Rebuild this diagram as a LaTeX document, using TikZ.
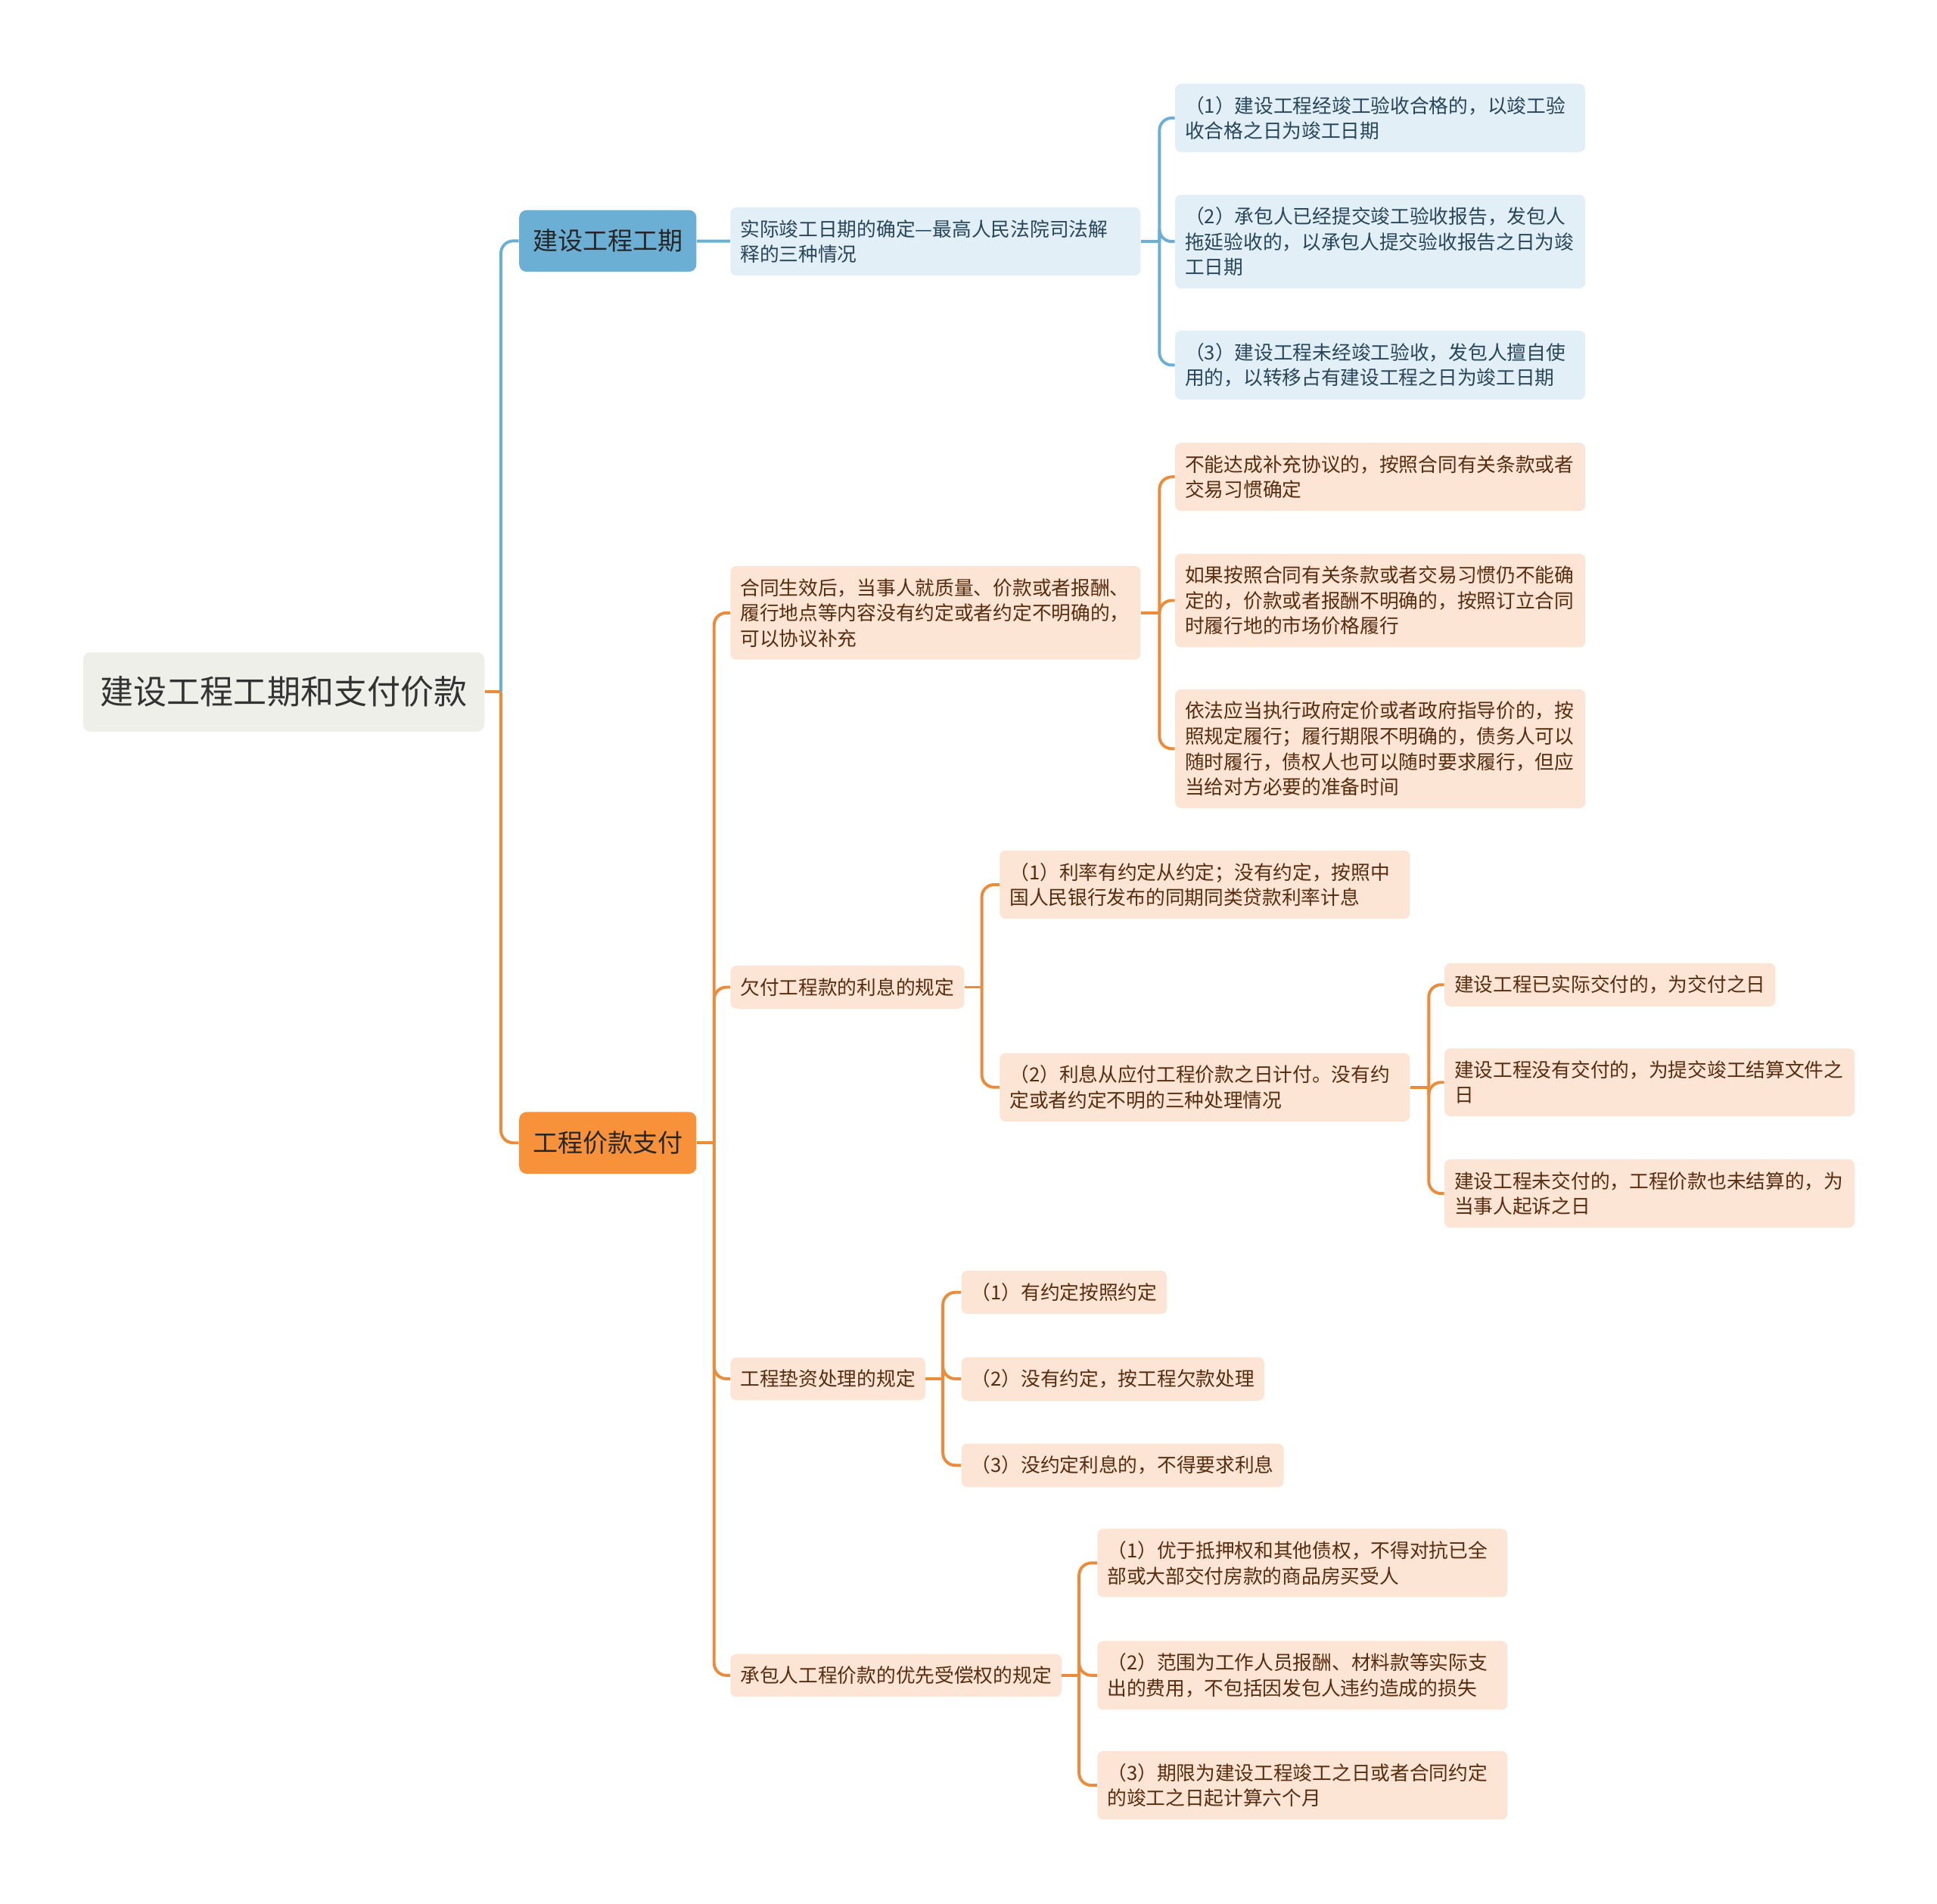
\documentclass[tikz,border=0pt]{standalone}
\usepackage{fontspec}
\newfontfamily\cjk{Noto Sans CJK SC}
\usepackage{xcolor}
\usepackage{tikz}
\usetikzlibrary{calc,positioning}

\definecolor{rootfill}{RGB}{239,239,233}
\definecolor{bluemain}{RGB}{107,176,212}
\definecolor{bluelight}{RGB}{226,239,247}
\definecolor{bluetext}{RGB}{40,70,90}
\definecolor{orangemain}{RGB}{247,146,58}
\definecolor{orangeline}{RGB}{236,140,56}
\definecolor{orangelight}{RGB}{252,229,212}
\definecolor{browntext}{RGB}{88,44,14}

\tikzset{
  rootbox/.style={fill=rootfill, rounded corners=1.5mm, inner xsep=3.5mm, inner ysep=4.9mm, text=black!80, font={\cjk\fontsize{19.2}{23}\selectfont}},
  topicbox/.style={rounded corners=1.5mm, inner xsep=2.75mm, inner ysep=3.9mm, text=black!85, font={\cjk\fontsize{14.4}{17}\selectfont}},
  leafbox/.style={rounded corners=1.2mm, inner xsep=2mm, inner ysep=2.5mm, align=left, font={\cjk\fontsize{11.2}{14.6}\selectfont}},
  widebox/.style={leafbox, text width=79mm},
  blueleaf/.style={fill=bluelight, text=bluetext},
  orangeleaf/.style={fill=orangelight, text=browntext},
  blueline/.style={draw=bluemain, line width=0.6mm, rounded corners=2.5mm},
  orangeline/.style={draw=orangeline, line width=0.6mm, rounded corners=2.5mm},
}

\begin{document}
\begin{tikzpicture}[x=0.25mm, y={(0mm,-0.25mm)}]
  \useasboundingbox (0,0) rectangle (1568,1541);

  % root and the two main topics
  \node[rootbox, anchor=west] (root) at (67,560) {建设工程工期和支付价款};
  \node[topicbox, fill=bluemain, anchor=west] (period) at (420,195) {建设工程工期};
  \node[topicbox, fill=orangemain, anchor=west] (payment) at (420,925) {工程价款支付};

  % completion date branch
  \node[widebox, blueleaf, anchor=west] (actual) at (591,195.5) {实际竣工日期的确定—最高人民法院司法解\\释的三种情况};
  \node[widebox, blueleaf, anchor=west] (act1) at (951,95.5) {（1）建设工程经竣工验收合格的，以竣工验\\收合格之日为竣工日期};
  \node[widebox, blueleaf, anchor=west] (act2) at (951,195.5) {（2）承包人已经提交竣工验收报告，发包人\\拖延验收的，以承包人提交验收报告之日为竣\\工日期};
  \node[widebox, blueleaf, anchor=west] (act3) at (951,295.5) {（3）建设工程未经竣工验收，发包人擅自使\\用的，以转移占有建设工程之日为竣工日期};

  % payment branch
  \node[widebox, orangeleaf, anchor=west] (supp) at (591,496) {合同生效后，当事人就质量、价款或者报酬、\\履行地点等内容没有约定或者约定不明确的，\\可以协议补充};
  \node[leafbox, orangeleaf, anchor=west] (interest) at (591,799) {欠付工程款的利息的规定};
  \node[leafbox, orangeleaf, anchor=west] (advance) at (591,1116) {工程垫资处理的规定};
  \node[leafbox, orangeleaf, anchor=west] (priority) at (591,1356) {承包人工程价款的优先受偿权的规定};

  \node[widebox, orangeleaf, anchor=west] (supp1) at (951,386) {不能达成补充协议的，按照合同有关条款或者\\交易习惯确定};
  \node[widebox, orangeleaf, anchor=west] (supp2) at (951,486) {如果按照合同有关条款或者交易习惯仍不能确\\定的，价款或者报酬不明确的，按照订立合同\\时履行地的市场价格履行};
  \node[widebox, orangeleaf, anchor=west] (supp3) at (951,606) {依法应当执行政府定价或者政府指导价的，按\\照规定履行；履行期限不明确的，债务人可以\\随时履行，债权人也可以随时要求履行，但应\\当给对方必要的准备时间};

  \node[widebox, orangeleaf, anchor=west] (int1) at (809,716) {（1）利率有约定从约定；没有约定，按照中\\国人民银行发布的同期同类贷款利率计息};
  \node[widebox, orangeleaf, anchor=west] (int2) at (809,880) {（2）利息从应付工程价款之日计付。没有约\\定或者约定不明的三种处理情况};
  \node[leafbox, orangeleaf, anchor=west] (day1) at (1169,797) {建设工程已实际交付的，为交付之日};
  \node[widebox, orangeleaf, anchor=west] (day2) at (1169,876) {建设工程没有交付的，为提交竣工结算文件之\\日};
  \node[widebox, orangeleaf, anchor=west] (day3) at (1169,966) {建设工程未交付的，工程价款也未结算的，为\\当事人起诉之日};

  \node[leafbox, orangeleaf, anchor=west] (adv1) at (778,1046) {（1）有约定按照约定};
  \node[leafbox, orangeleaf, anchor=west] (adv2) at (778,1116) {（2）没有约定，按工程欠款处理};
  \node[leafbox, orangeleaf, anchor=west] (adv3) at (778,1186) {（3）没约定利息的，不得要求利息};

  \node[widebox, orangeleaf, anchor=west] (pri1) at (888,1265) {（1）优于抵押权和其他债权，不得对抗已全\\部或大部交付房款的商品房买受人};
  \node[widebox, orangeleaf, anchor=west] (pri2) at (888,1356) {（2）范围为工作人员报酬、材料款等实际支\\出的费用，不包括因发包人违约造成的损失};
  \node[widebox, orangeleaf, anchor=west] (pri3) at (888,1445) {（3）期限为建设工程竣工之日或者合同约定\\的竣工之日起计算六个月};

  % junction points
  \coordinate (rootj) at ($(root.east)+(13,0)$);
  \coordinate (actualj) at ($(actual.east)+(15,0)$);
  \coordinate (paymentj) at ($(payment.east)+(14,0)$);
  \coordinate (suppj) at ($(supp.east)+(15,0)$);
  \coordinate (interestj) at ($(interest.east)+(14,0)$);
  \coordinate (int2j) at ($(int2.east)+(15,0)$);
  \coordinate (advancej) at ($(advance.east)+(14,0)$);
  \coordinate (priorityj) at ($(priority.east)+(14,0)$);

  % connectors
  \draw[orangeline] (root) -- (rootj);
  \draw[blueline] (rootj) |- (period);
  \draw[orangeline] (rootj) |- (payment);

  \draw[blueline] (period) -- (actual);
  \draw[blueline] (actual) -- (actualj);
  \draw[blueline] (actualj) |- (act1);
  \draw[blueline] (actualj) |- (act2);
  \draw[blueline] (actualj) |- (act3);

  \draw[orangeline] (payment) -- (paymentj);
  \draw[orangeline] (paymentj) |- (supp);
  \draw[orangeline] (paymentj) |- (interest);
  \draw[orangeline] (paymentj) |- (advance);
  \draw[orangeline] (paymentj) |- (priority);

  \draw[orangeline] (supp) -- (suppj);
  \draw[orangeline] (suppj) |- (supp1);
  \draw[orangeline] (suppj) |- (supp2);
  \draw[orangeline] (suppj) |- (supp3);

  \draw[orangeline] (interest) -- (interestj);
  \draw[orangeline] (interestj) |- (int1);
  \draw[orangeline] (interestj) |- (int2);
  \draw[orangeline] (int2) -- (int2j);
  \draw[orangeline] (int2j) |- (day1);
  \draw[orangeline] (int2j) |- (day2);
  \draw[orangeline] (int2j) |- (day3);

  \draw[orangeline] (advance) -- (advancej);
  \draw[orangeline] (advancej) |- (adv1);
  \draw[orangeline] (advancej) |- (adv2);
  \draw[orangeline] (advancej) |- (adv3);

  \draw[orangeline] (priority) -- (priorityj);
  \draw[orangeline] (priorityj) |- (pri1);
  \draw[orangeline] (priorityj) |- (pri2);
  \draw[orangeline] (priorityj) |- (pri3);
\end{tikzpicture}
\end{document}
